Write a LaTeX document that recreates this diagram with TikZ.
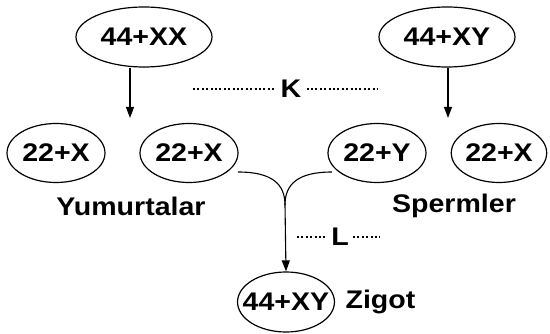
\documentclass[tikz,border=0pt]{standalone}
\usepackage{fontspec}
\setmainfont{Liberation Sans}[FakeStretch=1.12]
\usepackage{tikz}
\usetikzlibrary{shapes.geometric,arrows.meta}

\begin{document}
\begin{tikzpicture}[x=1pt,y=-1pt]
    \tikzstyle{every node}=[font=\fontsize{25.5}{28}\selectfont\bfseries]
    \tikzstyle{cell}=[draw,ellipse,line width=1.2pt,inner sep=0pt,minimum width=98pt,minimum height=59pt]
    \tikzstyle{big}=[cell,minimum width=136pt,minimum height=60pt]
    \tikzstyle{arr}=[line width=1.1pt,-{Triangle[length=11pt,width=8pt]}]
    \tikzstyle{dots}=[line width=2pt,dash pattern=on 2pt off 2.4pt]
    \useasboundingbox (0,0) rectangle (550,334);

    % parents
    \node[big] (xx) at (144,37) {44+XX};
    \node[big] (xy) at (447,37) {44+XY};

    % gametes
    \node[cell] (e1) at (56,153) {22+X};
    \node[cell] (e2) at (189,153) {22+X};
    \node[cell] (s1) at (377,153) {22+Y};
    \node[cell,minimum width=92pt] (s2) at (499,153) {22+X};
    \node (egg) at (131,206) {Yumurtalar};
    \node (sperm) at (454,206) {Spermler};

    % zygote
    \node[cell,inner xsep=-9pt,minimum width=96pt,minimum height=60pt] (zy) at (286,302) {44+XY};
    \node[anchor=west,xshift=7pt] (zlabel) at (zy.east) {Zigot};

    % meiosis
    \coordinate (a1) at (130,118);
    \coordinate (a2) at (448,118);
    \draw[arr] (xx.south -| a1) -- (a1);
    \draw[arr] (xy.south -| a2) -- (a2);
    \node[inner sep=5pt] (k) at (291,89) {K};
    \coordinate (k1) at (193,89);
    \coordinate (k2) at (377,89);
    \draw[dots] (k1) -- (k.west);
    \draw[dots] (k.east) -- (k2);

    % fertilisation
    \coordinate (f1) at (238,172);
    \coordinate (f2) at (332,172);
    \coordinate (m) at (285,205);
    \draw[line width=1.1pt] (f1) .. controls (272,172) and (285,184) .. (m);
    \draw[line width=1.1pt] (f2) .. controls (298,172) and (285,184) .. (m);
    \draw[arr] (m) -- (zy.north);
    \node[inner sep=4pt] (l) at (340,237) {L};
    \coordinate (l1) at (297,237);
    \coordinate (l2) at (380,237);
    \draw[dots] (l1) -- (l.west);
    \draw[dots] (l.east) -- (l2);
\end{tikzpicture}
\end{document}
